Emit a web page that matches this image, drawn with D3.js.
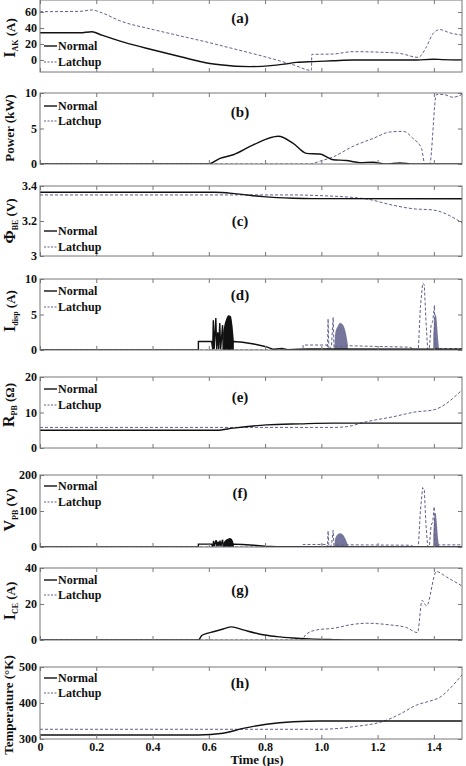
<!DOCTYPE html>
<html>
<head>
<meta charset="utf-8">
<script src="https://cdn.jsdelivr.net/npm/d3@7"></script>
<style>
  body { margin: 0; background: #fff; }
  svg { display: block; }
  text { font-family: "Liberation Serif", "DejaVu Serif", serif; font-weight: bold; fill: #111; }
  .tick text { font-size: 12px; }
  .legend { font-size: 12px; }
  .plabel { font-size: 15px; }
  .ylab { font-size: 13px; }
</style>
</head>
<body>
<svg id="chart" width="466" height="766"></svg>
<script>
// time axis
const timeTicks = [0, 0.2, 0.4, 0.6, 0.8, 1.0, 1.2, 1.4];
const timeLabels = ["0", "0.2", "0.4", "0.6", "0.8", "1.0", "1.2", "1.4"];
const seriesNames = ["Normal", "Latchup"];
const panelLetters = ["(a)", "(b)", "(c)", "(d)", "(e)", "(f)", "(g)", "(h)"];

// (a) I_AK (A)
const aNormal = [[0,34],[0.142,34],[0.184,35.4],[0.22,31],[0.3,22],[0.403,12.5],[0.5,4],[0.598,-4],[0.64,-6],[0.746,-8.3],[0.82,-7],[0.87,-5],[0.912,-3],[0.971,-2],[1.04,-1],[1.113,0],[1.3,0],[1.34,0],[1.397,1],[1.43,0.5],[1.5,0]];
const aLatchup = [[0,60.4],[0.142,60.8],[0.184,62.5],[0.22,59],[0.284,49],[0.403,38],[0.5,30],[0.598,22],[0.7,13],[0.8,4],[0.9,-6],[0.965,-13],[0.966,7],[1.042,7.5],[1.113,10.4],[1.22,9.6],[1.279,8.3],[1.344,3.3],[1.374,16.7],[1.397,33],[1.421,38],[1.456,34],[1.5,31]];
// (b) Power (kW)
const bNormal = [[0,0],[0.598,0],[0.64,0.8],[0.687,1.3],[0.758,2.7],[0.847,3.9],[0.9,2.9],[0.947,1.5],[0.995,1.4],[1.042,0.6],[1.089,0.5],[1.137,0.2],[1.184,0.25],[1.231,0],[1.279,0.15],[1.326,0],[1.5,0]];
const bLatchup = [[0,0],[0.959,0],[0.995,0.4],[1.042,1.0],[1.113,2.5],[1.184,3.6],[1.243,4.5],[1.291,4.6],[1.326,3.6],[1.356,2.2],[1.368,0],[1.385,0],[1.409,9.8],[1.433,9.8],[1.468,9.4],[1.5,9.8]];
// (c) Phi_BE (V)
const cNormal = [[0,3.364],[0.62,3.364],[0.7,3.355],[0.793,3.339],[0.9,3.33],[0.97,3.328],[1.5,3.327]];
const cLatchup = [[0,3.349],[0.888,3.349],[0.995,3.345],[1.16,3.326],[1.255,3.29],[1.326,3.27],[1.397,3.263],[1.5,3.19]];
// (d) I_disp (A)
const dNormal = [[0,0],[0.563,0],[0.563,1.2],[0.61,1.2],[0.614,0.1],[0.616,4.2],[0.619,0.1],[0.625,4.5],[0.628,0.1],[0.632,2.5],[0.635,0.1],[0.639,3.8],[0.642,0.1],[0.649,3.5],[0.651,0.2],[0.69,1.2],[0.72,1.1],[0.76,0.85],[0.8,0.5],[0.83,0.1],[0.86,0.2],[0.88,0.05],[0.92,0.1],[0.96,0.15],[1.5,0.1]];
const dNormalBurst = [[0.651,2.5],[0.655,3.4],[0.662,4.4],[0.67,4.9],[0.678,4.8],[0.684,3.5],[0.689,1.3]];
const dLatchup = [[0,0],[0.935,0],[0.935,0.7],[1.02,0.7],[1.022,0],[1.024,4.4],[1.027,0],[1.036,0.5],[1.042,4.6],[1.045,0.3],[1.048,0.5],[1.1,0.6],[1.2,0.5],[1.314,0.4],[1.333,0.05],[1.345,0.2],[1.352,6],[1.36,9.4],[1.366,9.2],[1.372,4],[1.378,0.1],[1.384,0.1],[1.39,3.5],[1.396,4.0],[1.402,6.3],[1.404,0.3],[1.415,0.2],[1.5,0.2]];
const dLatchupBurst1 = [[1.046,0.3],[1.05,2.5],[1.058,3.3],[1.066,3.8],[1.076,3.6],[1.086,2.6],[1.094,0.8]];
const dLatchupBurst2 = [[1.398,2],[1.402,4.5],[1.406,5],[1.41,4.2],[1.414,2],[1.418,0.3]];
// (e) R_PB (ohm)
const eNormal = [[0,5],[0.628,5],[0.687,5.6],[0.805,6.5],[0.924,6.8],[1.042,7.0],[1.5,7.0]];
const eLatchup = [[0,5.8],[1.042,5.8],[1.089,6.0],[1.16,7.4],[1.255,8.8],[1.338,10.2],[1.397,10.7],[1.5,16.3]];
// (f) V_PB (V)
const fNormal = [[0,0],[0.563,0],[0.563,8],[0.61,8],[0.614,1],[0.617,17],[0.62,2],[0.626,19],[0.629,2],[0.633,15],[0.636,2],[0.64,18],[0.643,2],[0.649,20],[0.651,3],[0.69,8],[0.72,7],[0.76,5],[0.8,2],[0.84,0.5],[1.5,0.5]];
const fNormalBurst = [[0.651,10],[0.658,18],[0.666,22],[0.674,25],[0.682,22],[0.689,8]];
const fLatchup = [[0,0],[0.935,0],[0.935,7],[1.02,7],[1.022,0],[1.024,45],[1.027,0],[1.036,5],[1.042,46],[1.045,3],[1.048,5],[1.1,6],[1.2,5.5],[1.314,5],[1.333,0.5],[1.345,2],[1.352,100],[1.36,165],[1.366,160],[1.372,60],[1.378,1],[1.384,1],[1.39,60],[1.396,70],[1.401,112],[1.404,4],[1.42,6],[1.5,6]];
const fLatchupBurst1 = [[1.046,3],[1.05,25],[1.058,35],[1.066,38],[1.076,35],[1.086,22],[1.094,6]];
const fLatchupBurst2 = [[1.398,30],[1.402,85],[1.406,95],[1.41,70],[1.414,30],[1.418,5]];
// (g) I_CE (A)
const gNormal = [[0,0],[0.563,0],[0.575,2.5],[0.59,3.5],[0.616,4.6],[0.651,6.1],[0.681,7.3],[0.722,5.6],[0.782,3.2],[0.841,1.9],[0.9,1.1],[0.959,0.6],[1.042,0.2],[1.1,0],[1.5,0]];
const gLatchup = [[0,0],[0.93,0],[0.945,3],[0.983,5.6],[1.042,6.5],[1.113,8.7],[1.16,9.3],[1.243,8.4],[1.303,6.9],[1.342,4.1],[1.358,22],[1.374,19],[1.409,38],[1.445,35],[1.5,30]];
// (h) Temperature (K)
const hNormal = [[0,311],[0.563,311],[0.651,316],[0.722,329.5],[0.805,341],[0.9,348],[0.995,350],[1.5,350]];
const hLatchup = [[0,327],[0.995,327],[1.113,334],[1.231,352],[1.279,369],[1.338,394],[1.397,408],[1.42,415],[1.45,435],[1.5,478]];

// y domains / ticks per panel
const yDomains = [[-15,75],[0,10],[3,3.4],[0,10],[0,20],[0,200],[0,40],[300,500]];
const yTicks = [[0,20,40,60],[0,5,10],[3,3.2,3.4],[0,5,10],[0,10,20],[0,100,200],[0,20,40],[300,400,500]];
const yTickLabels = [["0","20","40","60"],["0","5","10"],["3","3.2","3.4"],["0","5","10"],["0","10","20"],["0","100","200"],["0","20","40"],["300","400","500"]];

const panels = [
  {normal: aNormal, latchup: aLatchup, nb: [], lb: [], smooth: true},
  {normal: bNormal, latchup: bLatchup, nb: [], lb: [], smooth: true},
  {normal: cNormal, latchup: cLatchup, nb: [], lb: [], smooth: true},
  {normal: dNormal, latchup: dLatchup, nb: [dNormalBurst], lb: [dLatchupBurst1, dLatchupBurst2], smooth: false},
  {normal: eNormal, latchup: eLatchup, nb: [], lb: [], smooth: true},
  {normal: fNormal, latchup: fLatchup, nb: [fNormalBurst], lb: [fLatchupBurst1, fLatchupBurst2], smooth: false},
  {normal: gNormal, latchup: gLatchup, nb: [], lb: [], smooth: true},
  {normal: hNormal, latchup: hLatchup, nb: [], lb: [], smooth: true}
];

// layout
const tops = [0, 93, 186, 279, 377, 475, 568, 667];
const heights = [72, 71, 70, 71, 71, 72, 72, 72];
const legendOff = [[46,62],[13,28],[45,61],[12,28],[12,28],[11,27],[12,27],[11,26]];
const letterOff = [18, 19, 35, 16, 20, 18, 22, 16];
const yLabCenter = [38, 128, 221, 311, 405, 510, 601, 705];
const yLabX = [15, 14, 15, 15, 14, 15, 15, 13];

const left = 40, right = 462;
const normalColor = "#111";
const latchColor = "#5f5f8c";
const burstColor = "#76769c";

const svg = d3.select("#chart");
const x = d3.scaleLinear().domain([0, 1.5]).range([left, right]);

panels.forEach(function(p, i){
  const top = tops[i], bottom = tops[i] + heights[i];
  const y = d3.scaleLinear().domain(yDomains[i]).range([bottom, top]);
  const g = svg.append("g");

  g.append("defs").append("clipPath").attr("id", "clip" + i)
    .append("rect").attr("x", left).attr("y", top).attr("width", right - left).attr("height", bottom - top);

  const plot = g.append("g").attr("clip-path", "url(#clip" + i + ")");

  const line = d3.line().x(d => x(d[0])).y(d => y(d[1]))
    .curve(p.smooth ? d3.curveMonotoneX : d3.curveLinear);
  const area = d3.area().x(d => x(d[0])).y0(y(yDomains[i][0])).y1(d => y(d[1]))
    .curve(d3.curveMonotoneX);

  p.nb.forEach(function(b){
    plot.append("path").attr("d", area(b)).attr("fill", normalColor);
  });
  p.lb.forEach(function(b){
    plot.append("path").attr("d", area(b)).attr("fill", burstColor);
  });

  plot.append("path").attr("d", line(p.latchup))
    .attr("fill", "none").attr("stroke", latchColor).attr("stroke-width", 1)
    .attr("stroke-dasharray", "3,2");
  plot.append("path").attr("d", line(p.normal))
    .attr("fill", "none").attr("stroke", normalColor).attr("stroke-width", 1.4);

  // frame
  g.append("rect").attr("x", left).attr("y", top).attr("width", right - left).attr("height", bottom - top)
    .attr("fill", "none").attr("stroke", "#777").attr("stroke-width", 1);

  // axes (inward ticks)
  const last = i === panels.length - 1;
  g.append("g").attr("transform", "translate(0," + bottom + ")")
    .call(d3.axisBottom(x).tickValues(timeTicks).tickSize(-4).tickPadding(3)
      .tickFormat((d, k) => last ? timeLabels[k] : ""));
  g.append("g").attr("transform", "translate(0," + top + ")")
    .call(d3.axisTop(x).tickValues(timeTicks).tickSize(-4).tickFormat(""));
  g.append("g").attr("transform", "translate(" + left + ",0)")
    .call(d3.axisLeft(y).tickValues(yTicks[i]).tickSize(-4).tickPadding(3)
      .tickFormat((d, k) => yTickLabels[i][k]));
  g.append("g").attr("transform", "translate(" + right + ",0)")
    .call(d3.axisRight(y).tickValues(yTicks[i]).tickSize(-4).tickFormat(""));
  g.selectAll(".domain").remove();
  g.selectAll(".tick line").attr("stroke", "#777");
  g.selectAll(".tick text").attr("fill", "#111");

  // legend
  seriesNames.forEach(function(name, k){
    const ly = top + legendOff[i][k];
    g.append("line").attr("x1", 44).attr("x2", 57).attr("y1", ly).attr("y2", ly)
      .attr("stroke", k === 0 ? normalColor : latchColor)
      .attr("stroke-width", k === 0 ? 1.4 : 1)
      .attr("stroke-dasharray", k === 0 ? null : "2,1.5");
    g.append("text").attr("class", "legend").attr("x", 58).attr("y", ly + 4).text(name);
  });

  // panel letter
  g.append("text").attr("class", "plabel").attr("x", 240).attr("y", top + letterOff[i] + 5)
    .attr("text-anchor", "middle").text(panelLetters[i]);
});

// y axis labels with subscripts
function yLabel(i, parts){
  const t = svg.append("text").attr("class", "ylab")
    .attr("text-anchor", "middle")
    .attr("transform", "translate(" + yLabX[i] + "," + yLabCenter[i] + ") rotate(-90)");
  parts.forEach(function(p){
    const s = t.append("tspan").text(p[0]);
    if (p[1] === "sub") s.attr("font-size", 8).attr("dy", 3);
    if (p[1] === "back") s.attr("dy", -3);
    if (p[1] === "big") s.attr("font-size", 16);
  });
}
yLabel(0, [["I", "big"], ["AK", "sub"], [" (A)", "back"]]);
yLabel(1, [["Power (kW)"]]);
yLabel(2, [["\u03A6", "big"], ["BE", "sub"], [" (V)", "back"]]);
yLabel(3, [["I", "big"], ["disp", "sub"], [" (A)", "back"]]);
yLabel(4, [["R", "big"], ["PB", "sub"], [" (\u03A9)", "back"]]);
yLabel(5, [["V", "big"], ["PB", "sub"], [" (V)", "back"]]);
yLabel(6, [["I", "big"], ["CE", "sub"], [" (A)", "back"]]);
yLabel(7, [["Temperature (\u00B0K)"]]);

svg.append("text").attr("x", 257).attr("y", 764).attr("text-anchor", "middle")
  .style("font-size", "13px").text("Time (\u00B5s)");
</script>
</body>
</html>
